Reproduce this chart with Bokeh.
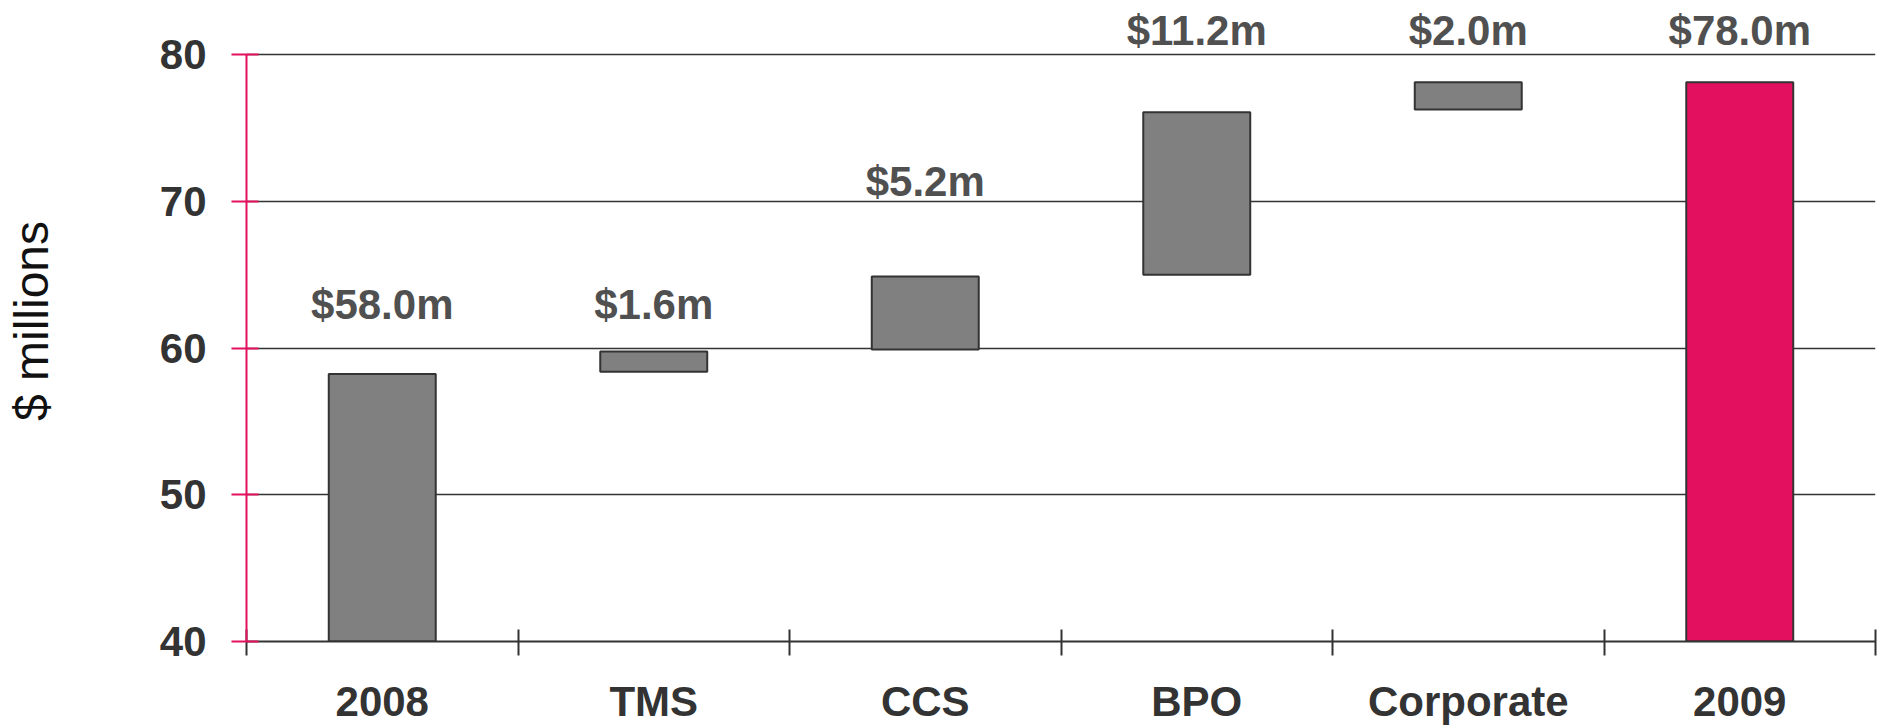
from bokeh.plotting import figure
from bokeh.models import ColumnDataSource, FixedTicker, Range1d
from bokeh.core.properties import value
from bokeh.embed import file_html
from bokeh.resources import INLINE

# ---- data ----
categories = ["2008", "TMS", "CCS", "BPO", "Corporate", "2009"]
bar_bottom = [40.0, 58.39, 59.89, 64.99, 76.25, 40.0]
bar_top = [58.23, 59.77, 64.87, 76.07, 78.11, 78.11]
value_labels = ["$58.0m", "$1.6m", "$5.2m", "$11.2m", "$2.0m", "$78.0m"]
label_y = [62.96, 62.96, 71.38, 81.64, 81.64, 81.64]
y_ticks = [40, 50, 60, 70, 80]

GRAY = "#808080"
PINK = "#E3105F"
DARK = "#333333"
FONT = "Liberation Sans"

xs = list(range(1, len(categories) + 1))
colors = [GRAY] * (len(categories) - 1) + [PINK]

src = ColumnDataSource(dict(x=xs, bottom=bar_bottom, top=bar_top, color=colors,
                            label=value_labels, ly=label_y))

p = figure(width=1880, height=728, output_backend="svg", toolbar_location=None,
           x_range=Range1d(0.5, len(categories) + 0.5), y_range=Range1d(40, 83.68),
           min_border_left=246, min_border_right=5, min_border_top=0, min_border_bottom=87)
p.outline_line_color = None
p.background_fill_color = "white"
p.border_fill_color = "white"

p.vbar(x="x", width=0.394, bottom="bottom", top="top", source=src,
       fill_color="color", line_color=DARK, line_width=2)

p.text(x="x", y="ly", text="label", source=src, text_align="center",
       text_baseline="middle", text_font=value(FONT), text_font_style="bold",
       text_font_size="42px", text_color="#505050")

# y axis
ya = p.yaxis[0]
ya.ticker = FixedTicker(ticks=y_ticks, minor_ticks=[])
ya.bounds = (40, 80)
ya.axis_line_color = PINK
ya.axis_line_width = 2
ya.major_tick_line_color = PINK
ya.major_tick_line_width = 2
ya.major_tick_in = 12
ya.major_tick_out = 15
ya.minor_tick_line_color = None
ya.minor_tick_in = 0
ya.minor_tick_out = 0
ya.major_label_standoff = 25
ya.major_label_text_font = FONT
ya.major_label_text_font_style = "bold"
ya.major_label_text_font_size = "42px"
ya.major_label_text_color = DARK
ya.axis_label = "$ millions"
ya.axis_label_text_font = FONT
ya.axis_label_text_font_style = "normal"
ya.axis_label_text_font_size = "48px"
ya.axis_label_text_color = "#111111"
ya.axis_label_standoff = 99

# x axis
xa = p.xaxis[0]
xa.ticker = FixedTicker(ticks=xs, minor_ticks=[x - 0.5 for x in xs] + [xs[-1] + 0.5])
xa.major_label_overrides = {x: c for x, c in zip(xs, categories)}
xa.axis_line_color = DARK
xa.axis_line_width = 2
xa.major_tick_line_color = None
xa.major_tick_in = 0
xa.major_tick_out = 0
xa.minor_tick_line_color = DARK
xa.minor_tick_line_width = 2
xa.minor_tick_in = 12
xa.minor_tick_out = 14
xa.major_label_standoff = 22
xa.major_label_text_font = FONT
xa.major_label_text_font_style = "bold"
xa.major_label_text_font_size = "42px"
xa.major_label_text_color = DARK

# grid
p.xgrid.visible = False
p.ygrid.ticker = FixedTicker(ticks=y_ticks, minor_ticks=[])
p.ygrid.grid_line_color = DARK
p.ygrid.grid_line_width = 1.5

open("out.html", "w").write(file_html(p, INLINE))
